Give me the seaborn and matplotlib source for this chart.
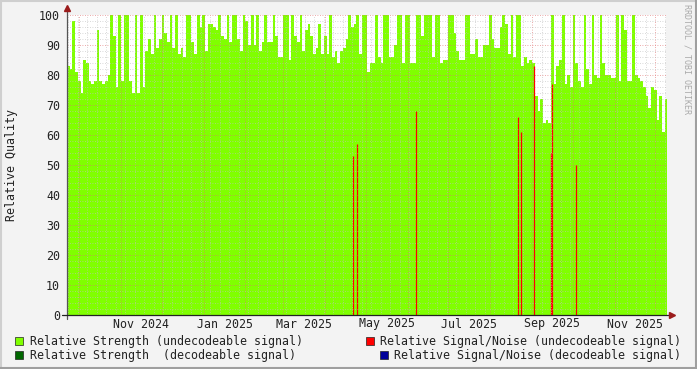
import numpy as np
import pandas as pd
import matplotlib
matplotlib.use("Agg")
import matplotlib.pyplot as plt
import matplotlib.transforms as mtrans
from matplotlib.patches import Rectangle
from matplotlib.lines import Line2D
import seaborn as sns

# ---------------- data ----------------
start_date = "2024-09-22"
end_date = "2025-12-09"
bin_days = 2

strength_undecodeable = [
    83, 82, 98, 81, 78, 74, 85, 84, 78, 77,
    78, 95, 78, 77, 78, 80, 100, 93, 76, 100,
    78, 100, 100, 78, 74, 100, 74, 100, 76, 88,
    92, 87, 100, 89, 92, 100, 94, 91, 100, 89,
    100, 87, 89, 86, 100, 100, 91, 87, 100, 96,
    100, 88, 97, 97, 96, 95, 100, 93, 92, 100,
    91, 100, 100, 92, 88, 100, 98, 90, 100, 90,
    100, 88, 91, 100, 91, 91, 100, 93, 86, 86,
    100, 100, 85, 100, 93, 91, 100, 88, 95, 97,
    93, 87, 89, 97, 87, 93, 87, 100, 86, 88,
    84, 88, 89, 92, 100, 96, 97, 100, 87, 100,
    100, 81, 84, 84, 100, 86, 84, 100, 100, 86,
    86, 90, 100, 100, 84, 100, 100, 84, 84, 100,
    100, 93, 100, 100, 100, 86, 100, 100, 84, 85,
    85, 100, 100, 94, 88, 85, 85, 100, 100, 87,
    87, 92, 86, 86, 90, 90, 100, 92, 89, 89,
    96, 100, 97, 87, 100, 86, 100, 100, 83, 86,
    84, 85, 84, 73, 68, 72, 64, 65, 64, 100,
    77, 83, 85, 100, 77, 80, 76, 100, 84, 78,
    76, 100, 82, 77, 100, 80, 79, 100, 84, 80,
    80, 79, 79, 100, 78, 100, 95, 78, 78, 100,
    80, 79, 78, 76, 73, 69, 76, 75, 65, 73, 61, 72,
]

snr_dates = [
    "2025-04-21 05:00", "2025-04-24 05:00", "2025-06-06 22:00",
    "2025-08-21 10:00", "2025-08-23 14:00", "2025-09-02 05:00",
    "2025-09-14 19:00", "2025-09-15 14:00", "2025-10-03 07:00",
]
snr_undecodeable = [53, 57, 68, 66, 61, 83, 54, 77, 50]

month_labels = ["Nov 2024", "Jan 2025", "Mar 2025", "May 2025",
                "Jul 2025", "Sep 2025", "Nov 2025"]
label_months = ["2024-11-01", "2025-01-01", "2025-03-01", "2025-05-01",
                "2025-07-01", "2025-09-01", "2025-11-01"]

legend_labels = ["Relative Strength (undecodeable signal)",
                 "Relative Signal/Noise (undecodeable signal)",
                 "Relative Strength  (decodeable signal)",
                 "Relative Signal/Noise (decodeable signal)"]
legend_colors = ["#80FF00", "#FF0000", "#006600", "#000099"]

# ---------------- helpers ----------------
t0 = pd.Timestamp(start_date)
t1 = pd.Timestamp(end_date)
def to_days(d):
    return np.asarray((pd.to_datetime(d) - t0) / pd.Timedelta(days=1), dtype=float)

n = len(strength_undecodeable)
centers = np.arange(n) * bin_days + bin_days / 2
span = float(to_days([t1])[0])

# ---------------- style ----------------
sns.set_style("white")
plt.rcParams["font.family"] = ["DejaVu Sans Mono"]
FS = 8.36

fig = plt.figure(figsize=(6.97, 3.69), dpi=100, facecolor="#F3F3F3")
W, H = 697, 369
ax = fig.add_axes([67 / W, 54 / H, 599 / W, 300 / H])
ax.set_facecolor("white")

df = pd.DataFrame({"day": centers, "value": np.asarray(strength_undecodeable, float)})
sns.histplot(data=df, x="day", weights="value", binwidth=bin_days,
             binrange=(0, n * bin_days), element="step",
             fill=True, color="#80FF00", alpha=1, linewidth=0, ax=ax, zorder=1)

ax.vlines(to_days(snr_dates), 0, snr_undecodeable, color="#FF0000",
          linewidth=0.9, zorder=2)

ax.set_xlim(0, span)
ax.set_ylim(0, 100)
ax.set_xlabel("")
ax.set_ylabel("")

# grid
months = pd.date_range("2024-10-01", "2025-12-01", freq="MS")
weeks = pd.date_range(t0, t1, freq="W-MON")
ax.set_xticks(to_days(months))
ax.set_xticklabels([""] * len(months))
ax.set_xticks(to_days(weeks), minor=True)
ax.set_yticks(np.arange(0, 101, 10))
ax.set_yticks(np.arange(0, 101, 2), minor=True)
ax.set_yticklabels([str(v) for v in range(0, 101, 10)], fontsize=FS, color="#222222")
ax.tick_params(axis="y", which="major", length=3, color="#D08080", pad=2)
ax.tick_params(axis="y", which="minor", length=2, color="#BBBBBB")
ax.tick_params(axis="x", which="major", length=3, color="#D08080")
ax.tick_params(axis="x", which="minor", length=2, color="#BBBBBB")
ax.set_axisbelow(False)
ax.grid(which="minor", color="#C0C0C0", linestyle=(0, (1, 2)), linewidth=0.6, alpha=0.8)
ax.grid(which="major", color="#E07070", linestyle=(0, (1, 2)), linewidth=0.6, alpha=0.8)

for s in ax.spines.values():
    s.set_visible(False)

# axis lines and arrows
ax.plot([0, 0], [-0.012, 1.025], transform=ax.transAxes, color="#555555",
        lw=0.9, clip_on=False, zorder=5)
ax.plot([-0.009, 1.01], [0, 0], transform=ax.transAxes, color="#222222",
        lw=0.9, clip_on=False, zorder=5)
ax.plot([0], [1.025], transform=ax.transAxes, marker="^", color="#9B1C1C",
        markersize=4.5, clip_on=False, zorder=6)
ax.plot([1.01], [0], transform=ax.transAxes, marker=">", color="#9B1C1C",
        markersize=4.5, clip_on=False, zorder=6)

# month labels at mid-month
trans = mtrans.blended_transform_factory(ax.transData, ax.transAxes)
for lab, m in zip(month_labels, label_months):
    ms = pd.Timestamp(m)
    me = ms + pd.offsets.MonthBegin(1)
    mid = (to_days([ms])[0] + to_days([me])[0]) / 2
    ax.text(mid, -0.03, lab, transform=trans, ha="center", va="center",
            fontsize=FS, color="#222222")

# y axis title
fig.text(12 / W, 1 - 165 / H, "Relative Quality", rotation=90, ha="center",
         va="center", fontsize=FS, color="#222222")

# watermark
fig.text(687 / W, 1 - 4 / H, "RRDTOOL / TOBI OETIKER", rotation=270,
         ha="center", va="top", fontsize=6, color="#AAAAAA")

# legend
legend_pos = [(15, 341, 30), (366, 341, 380), (15, 355, 30), (380, 355, 394)]
for (sx, sy, tx), lab, col in zip(legend_pos, legend_labels, legend_colors):
    fig.patches.append(Rectangle((sx / W, 1 - (sy + 4) / H), 8 / W, 8 / H,
                                 transform=fig.transFigure, facecolor=col,
                                 edgecolor="#222222", linewidth=0.5))
    fig.text(tx / W, 1 - sy / H, lab, ha="left", va="center", fontsize=FS,
             color="#222222")

# figure border
fig.add_artist(Line2D([0, 1], [1 - 1 / H, 1 - 1 / H], transform=fig.transFigure,
                      color="#CFCFCF", lw=1.5))
fig.add_artist(Line2D([1 / W, 1 / W], [0, 1], transform=fig.transFigure,
                      color="#CFCFCF", lw=1.5))
fig.add_artist(Line2D([0, 1], [1 / H, 1 / H], transform=fig.transFigure,
                      color="#9F9F9F", lw=1.5))
fig.add_artist(Line2D([1 - 1 / W, 1 - 1 / W], [0, 1], transform=fig.transFigure,
                      color="#9F9F9F", lw=1.5))

fig.savefig("out.png", dpi=100, facecolor=fig.get_facecolor())
